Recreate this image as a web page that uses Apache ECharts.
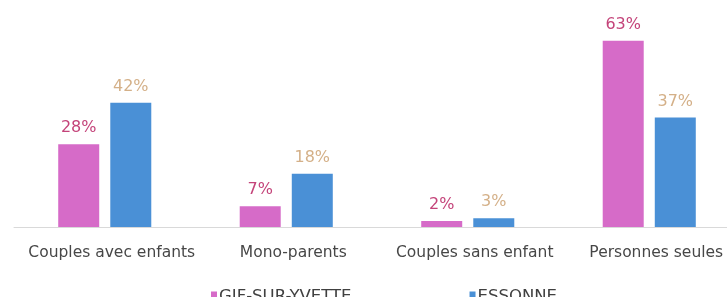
<!DOCTYPE html>
<html>
<head>
<meta charset="utf-8">
<script src="https://cdn.jsdelivr.net/npm/echarts@6/dist/echarts.min.js"></script>
<style>
  html, body { margin: 0; padding: 0; background: #fff; overflow: hidden; }
  #chart { width: 741px; height: 297px; }
</style>
</head>
<body>
<div id="chart"></div>
<script>
// household types, share in %
var categories = ["Couples avec enfants", "Mono-parents", "Couples sans enfant", "Personnes seules"];
var seriesNames = ["GIF-SUR-YVETTE", "ESSONNE"];
var gifValues = [28, 7, 2, 63];
var essonneValues = [42, 18, 3, 37];

var chartDom = document.getElementById("chart");
var myChart = echarts.init(chartDom);
var font = "DejaVu Sans";

// the original is cropped on the right, so the canvas is a bit wider than the window
var option = {
  animation: false,
  textStyle: { fontFamily: font },
  grid: { left: 14, top: 20, right: 1, bottom: 70 },
  legend: {
    data: seriesNames,
    top: 283,
    left: 206,
    icon: "rect",
    itemWidth: 6,
    itemHeight: 10,
    itemGap: 118,
    textStyle: { color: "#404040", fontSize: 16.5, fontFamily: font, padding: [0, 0, 0, -3] }
  },
  xAxis: {
    type: "category",
    data: categories,
    axisTick: { show: false },
    axisLine: { lineStyle: { color: "#d9d9d9", width: 1 } },
    axisLabel: {
      color: "#474747",
      fontSize: 15.5,
      margin: 18,
      padding: [0, 0, 0, 14],
      interval: 0
    }
  },
  yAxis: {
    type: "value",
    min: 0,
    max: 70,
    show: false,
    splitLine: { show: false }
  },
  series: [
    {
      name: seriesNames[0],
      type: "bar",
      data: gifValues,
      barWidth: 41,
      barGap: "27%",
      itemStyle: { color: "#d66bc8" },
      label: {
        show: true,
        position: "top",
        distance: 8,
        formatter: "{c}%",
        color: "#c4447a",
        fontSize: 16
      }
    },
    {
      name: seriesNames[1],
      type: "bar",
      data: essonneValues,
      barWidth: 41,
      itemStyle: { color: "#4a90d6" },
      label: {
        show: true,
        position: "top",
        distance: 8,
        formatter: "{c}%",
        color: "#d4b088",
        fontSize: 16
      }
    }
  ]
};

option && myChart.setOption(option);
</script>
</body>
</html>
